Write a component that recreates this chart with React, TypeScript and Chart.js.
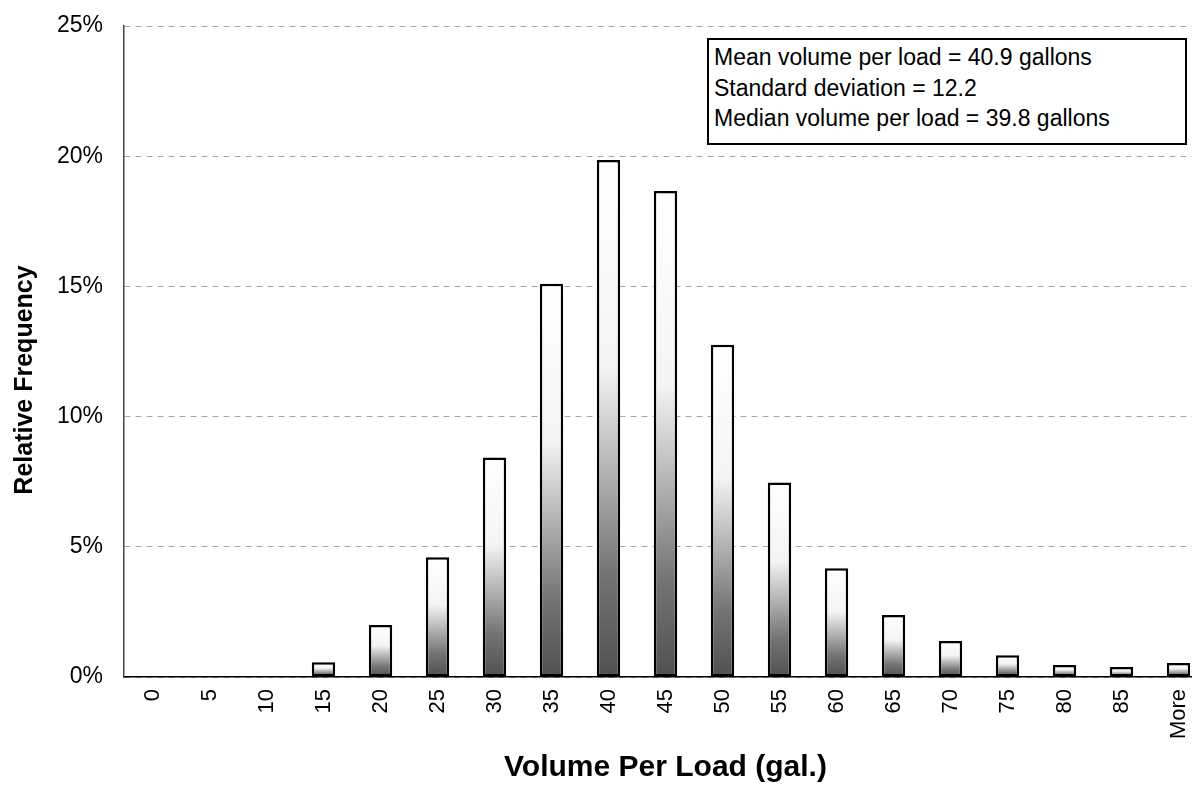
import React, { useEffect, useRef } from "react";
import { Chart, registerables } from "chart.js";

Chart.register(...registerables);

const categories = ["0", "5", "10", "15", "20", "25", "30", "35", "40", "45", "50", "55", "60", "65", "70", "75", "80", "85", "More"];
const relativeFrequency = [0, 0, 0.03, 0.57, 2.0, 4.6, 8.43, 15.1, 19.85, 18.66, 12.76, 7.47, 4.18, 2.38, 1.38, 0.84, 0.46, 0.38, 0.54];
const yTicks = [0, 5, 10, 15, 20, 25];
const statsLines = [
  "Mean volume per load = 40.9 gallons",
  "Standard deviation = 12.2",
  "Median volume per load = 39.8 gallons",
];
const xTitle = "Volume Per Load (gal.)";
const yTitle = "Relative Frequency";

const FONT = "'Liberation Sans', Arial, Helvetica, sans-serif";

export default function App() {
  const ref = useRef<HTMLCanvasElement | null>(null);

  useEffect(() => {
    if (!ref.current) return;
    const chart = new Chart(ref.current, {
      type: "bar",
      data: {
        labels: categories,
        datasets: [
          {
            data: relativeFrequency,
            borderColor: "#000",
            borderWidth: 2.5,
            borderSkipped: false,
            barPercentage: 0.41,
            categoryPercentage: 1,
            backgroundColor: (ctx: any) => {
              const chart = ctx.chart;
              const ys = chart.scales?.y;
              if (!ys || ctx.raw == null) return "#fff";
              const top = ys.getPixelForValue(ctx.raw);
              const bottom = ys.getPixelForValue(0);
              if (!isFinite(top) || bottom - top < 1) return "#888";
              const g = chart.ctx.createLinearGradient(0, top, 0, bottom);
              g.addColorStop(0, "#ffffff");
              g.addColorStop(0.4, "#f4f4f4");
              g.addColorStop(0.6, "#b4b4b4");
              g.addColorStop(0.8, "#747474");
              g.addColorStop(1, "#505050");
              return g;
            },
          },
        ],
      },
      options: {
        animation: false,
        responsive: false,
        maintainAspectRatio: false,
        layout: { padding: { top: 26, right: 0, left: 0, bottom: 0 } },
        plugins: {
          legend: { display: false },
          tooltip: { enabled: false },
        },
        scales: {
          x: {
            grid: { display: false, drawTicks: false },
            border: { display: true, color: "#000", width: 1.5 },
            ticks: {
              color: "#000",
              font: { family: FONT, size: 22 },
              minRotation: 90,
              maxRotation: 90,
              padding: 12,
            },
            title: {
              display: true,
              text: xTitle,
              color: "#000",
              font: { family: FONT, size: 30, weight: "bold" },
              padding: { top: 0, bottom: 12 },
            },
            afterFit: (scale: any) => {
              scale.height = 121;
              scale.paddingLeft = 0;
              scale.paddingRight = 0;
            },
          },
          y: {
            min: 0,
            max: 25,
            afterBuildTicks: (scale: any) => {
              scale.ticks = yTicks.map((v) => ({ value: v }));
            },
            grid: {
              color: "#a8a8a8",
              lineWidth: 1,
              drawTicks: false,
            },
            border: { display: true, color: "#444", width: 1.5, dash: [6, 5] },
            ticks: {
              color: "#000",
              font: { family: FONT, size: 23 },
              padding: 21,
              callback: (v: any) => v + "%",
            },
            title: { display: false },
            afterFit: (scale: any) => {
              scale.width = 124;
              scale.paddingTop = 0;
              scale.paddingBottom = 0;
            },
          },
        },
      },
      plugins: [
        {
          id: "yTitle",
          afterDraw: (c: any) => {
            const ctx = c.ctx;
            ctx.save();
            ctx.translate(25, 380);
            ctx.rotate(-Math.PI / 2);
            ctx.font = `bold 25px ${FONT}`;
            ctx.fillStyle = "#000";
            ctx.textAlign = "center";
            ctx.textBaseline = "middle";
            ctx.fillText(yTitle, 0, 0);
            ctx.restore();
          },
        },
      ],
    } as any);
    return () => chart.destroy();
  }, []);

  return (
    <div style={{ position: "fixed", left: 0, top: 0, width: 1192, height: 798, overflow: "hidden", background: "#fff" }}>
      <canvas ref={ref} width={1207} height={798} style={{ width: 1207, height: 798, display: "block" }} />
      <div
        style={{
          position: "absolute",
          left: 707,
          top: 38,
          width: 480,
          height: 107,
          border: "2px solid #000",
          background: "#fff",
          fontFamily: FONT,
          fontSize: 23,
          color: "#000",
          paddingLeft: 5,
          paddingTop: 2,
          boxSizing: "border-box",
          lineHeight: "30.5px",
          whiteSpace: "nowrap",
        }}
      >
        {statsLines.map((s, i) => (
          <div key={i}>{s}</div>
        ))}
      </div>
    </div>
  );
}
